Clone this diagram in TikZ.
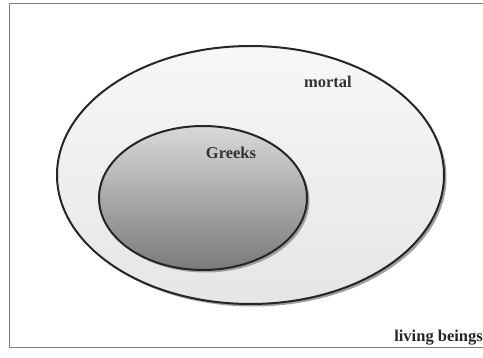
\documentclass[tikz,border=0pt]{standalone}
\usepackage{fontspec}
\setmainfont{Liberation Serif}
\usepackage{tkz-euclide}
\usetikzlibrary{calc}

\begin{document}
\begin{tikzpicture}[x=1pt,y=-1pt]
\tkzDefPoints{250.5/175/M,203/198/G} % The centres of the two sets.

\useasboundingbox (0,0) rectangle (483,358);
\clip (0,0) rectangle (483,358);
\draw[line width=0.8pt,color=gray] (9,3) rectangle (500,347);

% outer set with its shadow
\fill[color=gray!75] ($(M)+(2.5,2.5)$) ellipse [x radius=193.5,y radius=129];
\draw[line width=2pt,color=black!85,top color=black!3,bottom color=black!10] (M) ellipse [x radius=193.5,y radius=129];

% inner set with its shadow
\fill[color=gray!75] ($(G)+(2.5,2.5)$) ellipse [x radius=104,y radius=72];
\draw[line width=2pt,color=black!85,top color=black!15,bottom color=black!52] (G) ellipse [x radius=104,y radius=72];

\node[font=\bfseries\fontsize{16.5}{19}\selectfont,text=black!80] (mortal) at (328,82) {mortal};
\node[font=\bfseries\fontsize{16.5}{19}\selectfont,text=black!80] (greeks) at (231,153) {Greeks};
\node[font=\bfseries\fontsize{16.5}{19}\selectfont,text=black!85,anchor=east,inner xsep=0pt] (living) at (483,338) {living beings};
\end{tikzpicture}
\end{document}
